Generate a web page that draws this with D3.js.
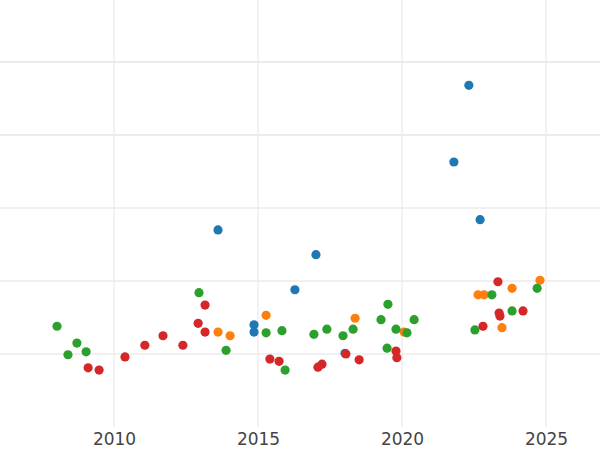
<!DOCTYPE html>
<html>
<head>
<meta charset="utf-8">
<script src="https://cdn.jsdelivr.net/npm/d3@7"></script>
<style>
  body { margin: 0; background: #fff; }
  text { font-family: "DejaVu Sans", sans-serif; }
</style>
</head>
<body>
<div id="chart"></div>
<script>
// data: [year, value]
var blueData = [[2013.61,2.70],[2017.01,2.36],[2016.28,1.88],[2014.86,1.40],[2014.86,1.30],[2018.02,1.01],[2021.80,3.63],[2022.32,4.68],[2022.71,2.84]];
var orangeData = [[2015.28,1.53],[2013.61,1.30],[2014.03,1.25],[2018.37,1.49],[2020.07,1.30],[2022.64,1.81],[2022.85,1.81],[2023.82,1.90],[2023.47,1.36],[2024.79,2.01]];
var greenData = [[2008.02,1.38],[2008.71,1.15],[2008.40,0.99],[2009.03,1.03],[2012.95,1.84],[2013.89,1.05],[2015.28,1.29],[2015.83,1.32],[2015.94,0.78],[2016.94,1.27],[2017.39,1.34],[2017.95,1.25],[2018.30,1.34],[2019.27,1.47],[2019.51,1.68],[2019.48,1.08],[2019.79,1.34],[2020.17,1.29],[2020.42,1.47],[2022.53,1.33],[2023.12,1.81],[2023.82,1.59],[2024.69,1.90]];
var redData = [[2009.10,0.81],[2009.48,0.78],[2010.38,0.96],[2011.07,1.12],[2011.70,1.25],[2012.39,1.12],[2012.92,1.42],[2013.16,1.67],[2013.16,1.30],[2015.41,0.93],[2015.73,0.90],[2017.08,0.82],[2017.22,0.86],[2018.05,1.00],[2018.51,0.92],[2019.79,1.04],[2019.82,0.95],[2023.33,1.99],[2023.37,1.56],[2023.40,1.52],[2022.81,1.38],[2024.20,1.59]];

var seriesList = [
  { data: blueData, color: "#1f77b4" },
  { data: orangeData, color: "#ff7f0e" },
  { data: greenData, color: "#2ca02c" },
  { data: redData, color: "#d62728" }
];
var xTicks = [2010, 2015, 2020, 2025];
var yTicks = [1, 2, 3, 4, 5];

var svgWidth = 600;
var svgHeight = 450;
var plotBottom = 427;

var svg = d3.select("#chart")
  .append("svg")
  .attr("width", svgWidth)
  .attr("height", svgHeight);

var x = d3.scaleLinear()
  .domain([2006.04, 2006.04 + 600 / 28.8])
  .range([0, 600]);

var y = d3.scaleLinear()
  .domain([0, plotBottom / 73])
  .range([plotBottom, 0]);

// grid lines
svg.append("g").selectAll("line")
  .data(yTicks)
  .enter()
  .append("line")
  .attr("x1", 0).attr("x2", svgWidth)
  .attr("y1", d => y(d)).attr("y2", d => y(d))
  .attr("stroke", "#ebebeb")
  .attr("stroke-width", d => d >= 4 ? 2 : 1.3);

svg.append("g").selectAll("line")
  .data(xTicks)
  .enter()
  .append("line")
  .attr("x1", d => x(d)).attr("x2", d => x(d))
  .attr("y1", 0).attr("y2", plotBottom)
  .attr("stroke", "#ebebeb")
  .attr("stroke-width", 1.3);

// x axis labels
var xAxis = d3.axisBottom(x).tickValues(xTicks).tickFormat(d3.format("d")).tickSize(0).tickPadding(6);
var xg = svg.append("g")
  .attr("transform", `translate(0, ${plotBottom})`)
  .call(xAxis);
xg.select(".domain").remove();
xg.selectAll("text")
  .attr("font-size", 17)
  .attr("fill", "#444")
  .style("font-family", "DejaVu Sans, sans-serif");

// points
seriesList.forEach(s => {
  svg.append("g").selectAll("circle")
    .data(s.data)
    .enter()
    .append("circle")
    .attr("cx", d => x(d[0]))
    .attr("cy", d => y(d[1]))
    .attr("r", 4.6)
    .attr("fill", s.color);
});
</script>
</body>
</html>
